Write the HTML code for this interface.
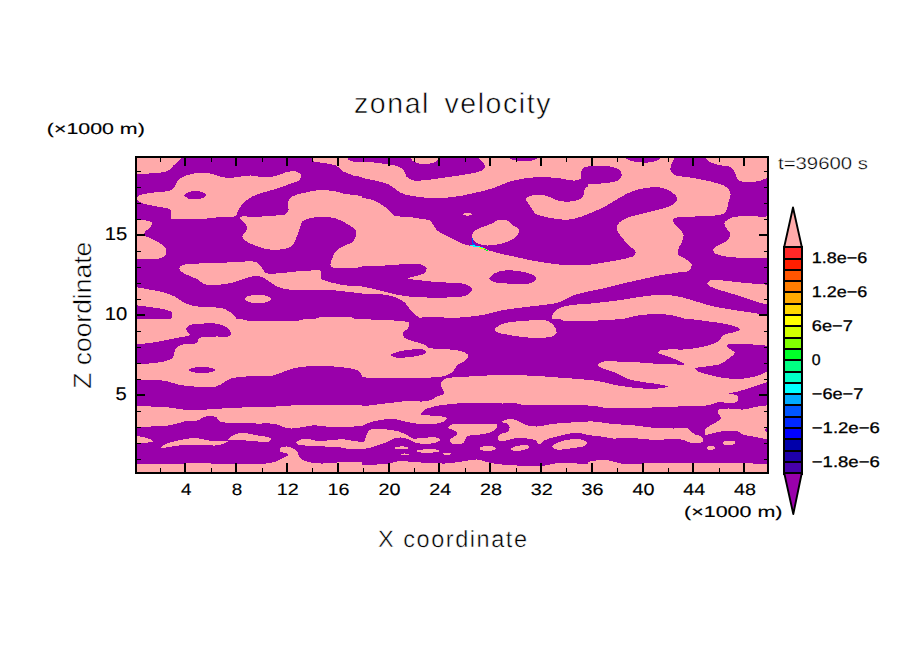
<!DOCTYPE html>
<html><head><meta charset="utf-8"><title>zonal velocity</title>
<style>html,body{margin:0;padding:0;background:#fff;overflow:hidden;}svg{display:block;position:absolute;left:0;top:0;}text{font-family:"Liberation Sans",sans-serif;fill:#000;}</style>
</head><body>
<svg width="904" height="654" viewBox="0 0 904 654" shape-rendering="crispEdges">
<rect x="0" y="0" width="904" height="654" fill="#fff"/>
<rect x="135" y="156" width="634" height="318" fill="#9900AA"/>
<clipPath id="plotclip"><rect x="135" y="156" width="634" height="318"/></clipPath>
<g clip-path="url(#plotclip)" shape-rendering="crispEdges">
<clipPath id="c136_156"><rect x="136" y="156" width="226" height="163"/></clipPath>
<g clip-path="url(#c136_156)">
<rect x="136" y="156" width="226" height="163" fill="#9900AA"/>
<path d="M136.0,156.0L183.5,156.0C183.5,156.0 180.2,159.4 178.5,161.0C176.9,162.6 175.1,163.9 173.5,165.5C171.8,167.1 170.5,169.3 168.5,170.5C166.4,171.7 163.8,172.0 161.0,172.5C157.4,173.1 152.7,173.2 148.5,173.5C144.3,173.7 136.0,174.0 136.0,174.0L136.0,156.0Z" fill="#FFAAAA"/>
<path d="M312.2,156.0C312.2,156.0 311.3,159.4 312.2,160.5C313.7,162.3 319.6,162.2 323.5,163.0C327.6,163.9 332.5,163.9 336.0,165.5C339.0,166.9 340.7,169.9 343.5,171.5C346.5,173.2 350.3,174.6 353.5,175.5C356.4,176.3 362.0,177.0 362.0,177.0L362.0,162.2C362.0,162.2 358.1,162.6 356.0,162.2C353.6,161.9 349.9,161.1 348.5,159.8C347.5,158.8 347.2,156.0 347.2,156.0L312.2,156.0Z" fill="#FFAAAA"/>
<path d="M137.2,197.2C137.8,196.3 139.2,195.4 141.0,194.8C144.2,193.5 151.2,192.9 156.0,192.2C160.3,191.7 165.1,192.1 168.5,191.0C171.1,190.2 173.3,189.0 174.8,187.2C176.2,185.6 176.0,182.7 177.2,181.0C178.5,179.4 180.1,178.4 182.2,177.2C185.2,175.7 189.4,174.2 193.5,173.5C198.1,172.7 204.0,172.4 208.5,173.0C212.2,173.5 215.1,175.2 218.5,176.0C221.8,176.8 225.0,177.9 228.5,178.0C232.4,178.2 237.1,176.9 241.0,176.5C244.5,176.1 247.5,175.4 251.0,175.5C254.9,175.6 259.3,177.2 263.5,177.2C267.7,177.3 272.1,176.9 276.0,176.0C279.6,175.2 282.6,173.0 286.0,172.2C289.3,171.5 293.3,170.8 296.0,171.5C298.1,172.0 300.4,173.3 301.0,174.8C301.5,176.1 300.9,178.4 299.8,179.8C298.2,181.6 294.0,182.3 291.0,183.5C287.8,184.8 284.5,186.1 281.0,187.2C277.1,188.6 272.7,189.8 268.5,191.0C264.3,192.2 259.7,193.2 256.0,194.8C252.7,196.2 249.8,197.8 247.2,199.8C244.9,201.6 242.7,203.8 241.0,206.0C239.4,208.0 238.1,210.4 237.2,212.2C236.6,213.6 237.2,215.1 236.0,216.0C233.5,217.9 224.3,216.8 218.5,217.2C212.7,217.8 207.2,218.7 201.0,219.0C194.0,219.4 184.0,219.5 178.5,219.2C175.3,219.1 172.4,219.9 171.0,218.5C169.5,217.0 172.0,211.6 170.5,209.8C168.9,207.8 164.4,208.0 161.0,207.2C157.1,206.4 152.3,205.7 148.5,204.8C145.3,204.0 141.7,203.4 139.8,202.2C138.5,201.5 137.6,200.7 137.2,199.8C136.9,199.0 136.9,198.0 137.2,197.2Z" fill="#FFAAAA"/>
<path d="M184.2,195.2C184.3,194.2 186.8,193.0 188.5,192.2C190.6,191.4 193.6,191.0 196.0,191.0C198.2,191.0 200.5,191.5 202.2,192.2C203.7,192.9 205.9,193.8 206.0,194.8C206.1,195.7 204.4,197.2 203.0,198.0C201.3,199.0 198.4,199.2 196.0,199.2C193.5,199.3 190.6,199.3 188.5,198.5C186.8,197.8 184.2,196.3 184.2,195.2Z" fill="#9900AA"/>
<path d="M288.5,201.0C289.2,199.5 290.4,197.7 292.2,196.5C294.8,194.8 299.6,194.0 303.5,193.0C307.5,192.0 311.5,190.9 316.0,190.5C321.3,190.0 328.5,190.3 333.5,191.0C337.3,191.5 339.6,192.8 343.5,193.5C348.7,194.5 362.0,196.0 362.0,196.0L362.0,267.2C362.0,267.2 334.0,270.0 331.0,266.5C329.5,264.7 331.4,261.1 332.2,258.5C333.1,255.9 334.2,253.1 336.0,251.0C337.9,248.9 340.8,247.4 343.5,246.0C346.2,244.5 350.1,244.1 352.2,242.2C354.1,240.6 355.5,238.2 356.0,236.0C356.5,234.0 356.5,231.5 355.5,229.8C354.3,227.7 351.2,226.4 348.5,224.8C345.0,222.6 340.3,219.8 336.0,218.5C331.9,217.2 327.7,216.8 323.5,216.8C319.3,216.7 314.7,217.1 311.0,218.0C307.8,218.8 304.1,219.6 302.2,221.5C300.6,223.2 300.7,226.0 299.8,228.5C298.6,231.5 297.4,235.5 296.0,238.5C294.8,241.1 294.0,243.8 292.2,245.5C290.6,247.1 288.4,247.8 286.0,248.5C283.1,249.3 279.3,249.7 276.0,249.8C272.7,249.8 269.5,249.7 266.0,249.0C262.0,248.2 257.3,246.3 253.5,244.8C250.3,243.4 246.7,242.2 244.8,240.5C243.4,239.3 242.2,237.9 242.2,236.5C242.3,234.8 245.2,232.7 246.0,231.0C246.7,229.7 247.5,228.5 247.2,227.2C247.0,225.6 244.8,223.9 243.5,222.2C242.2,220.6 239.2,218.3 239.8,217.2C240.6,215.5 250.3,217.0 256.0,216.8C262.3,216.5 270.5,216.1 276.0,215.5C279.9,215.1 283.9,215.4 286.0,214.0C287.4,213.0 288.2,211.3 288.5,209.8C288.8,208.2 288.0,206.3 288.0,204.8C288.0,203.4 288.0,202.2 288.5,201.0Z" fill="#FFAAAA"/>
<path d="M136.0,219.8C136.0,219.8 143.2,220.0 146.0,220.5C148.1,220.9 150.8,221.1 151.5,222.2C152.1,223.2 151.6,224.8 151.0,226.0C150.3,227.4 148.4,228.4 147.2,229.8C146.0,231.2 143.4,233.1 143.8,234.5C144.1,236.1 148.5,237.2 151.0,238.5C153.5,239.8 156.3,240.8 158.5,242.2C160.5,243.5 162.6,244.9 164.0,246.5C165.2,247.9 166.4,249.4 166.5,251.0C166.6,252.6 165.9,254.8 164.8,256.0C163.4,257.4 161.0,257.9 158.5,258.5C155.1,259.3 149.9,259.2 146.0,259.2C142.5,259.3 136.0,259.0 136.0,259.0L136.0,219.8Z" fill="#FFAAAA"/>
<path d="M179.0,268.5C179.0,267.4 180.5,266.1 182.2,265.2C185.5,263.7 192.8,263.9 198.5,263.5C204.8,263.1 211.6,263.3 218.5,263.0C225.8,262.7 234.6,262.0 241.0,261.8C245.8,261.6 250.3,260.9 253.5,261.5C255.6,261.9 257.1,262.4 258.5,263.5C260.0,264.7 261.0,266.9 262.2,268.5C263.5,270.1 264.2,272.1 266.0,273.0C268.4,274.2 272.1,273.6 276.0,273.5C281.5,273.4 289.8,272.0 296.0,271.5C301.4,271.1 306.7,270.6 311.0,270.5C314.3,270.4 318.1,269.5 319.8,270.5C320.8,271.1 321.2,272.3 321.5,273.5C321.8,274.9 320.3,277.3 321.0,278.5C321.7,279.8 324.0,280.3 326.0,281.0C328.7,282.0 332.9,282.8 336.0,283.5C338.7,284.1 340.4,284.8 343.5,285.2C348.3,285.9 362.0,286.0 362.0,286.0L362.0,293.5C362.0,293.5 355.0,292.7 351.0,292.2C346.4,291.7 341.0,290.9 336.0,290.5C331.0,290.1 326.4,289.9 321.0,289.8C314.8,289.6 307.2,289.9 301.0,289.8C295.6,289.7 290.4,290.0 286.0,289.2C282.3,288.6 279.0,287.5 276.0,286.0C273.2,284.7 270.9,282.5 268.5,281.0C266.3,279.6 264.4,278.1 262.2,277.2C260.2,276.5 258.3,276.0 256.0,276.0C253.1,276.0 249.3,277.1 246.0,278.0C242.6,278.9 239.4,280.5 236.0,281.5C232.7,282.5 229.5,283.5 226.0,284.0C222.1,284.6 217.4,284.8 213.5,284.8C210.0,284.7 206.1,285.1 203.5,284.0C201.4,283.1 200.5,281.0 198.5,279.8C196.1,278.3 192.5,277.3 189.8,276.0C187.1,274.8 184.1,273.7 182.2,272.2C180.8,271.1 179.0,269.7 179.0,268.5Z" fill="#FFAAAA"/>
<path d="M271.0,299.0C271.0,299.5 270.5,300.2 270.0,300.6C269.4,301.2 268.3,301.6 267.2,302.0C266.0,302.4 264.4,302.7 263.0,302.9C261.4,303.1 259.7,303.2 258.0,303.2C256.3,303.2 254.6,303.1 253.0,302.9C251.6,302.7 250.0,302.4 248.8,302.0C247.7,301.6 246.6,301.2 246.0,300.6C245.5,300.2 245.0,299.5 245.0,299.0C245.0,298.5 245.5,297.8 246.0,297.4C246.6,296.8 247.7,296.4 248.8,296.0C250.0,295.6 251.6,295.3 253.0,295.1C254.6,294.9 256.3,294.8 258.0,294.8C259.7,294.8 261.4,294.9 263.0,295.1C264.4,295.3 266.0,295.6 267.2,296.0C268.3,296.4 269.4,296.8 270.0,297.4C270.5,297.8 271.0,298.5 271.0,299.0Z" fill="#FFAAAA"/>
<path d="M136.0,287.2C136.0,287.2 146.0,288.8 151.0,289.8C156.0,290.7 161.6,291.6 166.0,293.0C169.7,294.2 173.0,295.6 176.0,297.2C178.8,298.7 180.7,300.8 183.5,302.2C186.5,303.8 189.8,305.2 193.5,306.0C197.9,307.0 203.7,306.9 208.5,307.2C212.9,307.6 217.4,307.2 221.0,308.0C223.9,308.6 226.2,309.7 228.5,311.0C230.8,312.3 233.4,314.4 234.8,316.0C235.6,317.0 236.5,319.0 236.5,319.0L171.0,319.0C171.0,319.0 173.0,314.5 172.2,313.0C171.5,311.4 168.6,310.6 166.0,309.8C162.2,308.5 156.0,308.0 151.0,307.2C146.0,306.5 136.0,305.2 136.0,305.2L136.0,287.2Z" fill="#FFAAAA"/>
<path d="M316.0,319.0C316.0,319.0 316.4,318.1 317.2,317.8C321.0,316.2 349.8,316.2 353.5,317.8C354.3,318.1 354.8,319.0 354.8,319.0L316.0,319.0Z" fill="#FFAAAA"/>
</g>
<clipPath id="c362_156"><rect x="362" y="156" width="226" height="163"/></clipPath>
<g clip-path="url(#c362_156)">
<rect x="362" y="156" width="226" height="163" fill="#FFAAAA"/>
<path d="M362.0,156.0L411.0,156.0C411.0,156.0 411.0,159.3 412.0,160.5C413.3,162.1 416.8,163.0 419.5,163.5C422.5,164.1 426.4,164.0 429.5,163.5C432.2,163.1 435.7,162.5 437.0,161.0C438.1,159.8 438.0,156.0 438.0,156.0L475.0,156.0C475.0,156.0 479.1,158.2 480.8,159.8C482.3,161.2 484.0,163.1 484.5,164.8C484.9,166.0 485.1,167.4 484.5,168.5C483.8,169.8 481.8,170.6 479.5,171.5C475.5,173.0 468.0,173.9 462.0,175.0C455.6,176.1 448.4,177.1 442.0,178.0C436.0,178.8 429.9,179.9 424.5,180.2C420.0,180.5 415.2,181.2 412.0,180.2C409.7,179.5 407.9,178.2 406.5,176.5C405.0,174.7 404.9,171.5 403.2,169.8C401.7,168.0 399.6,167.0 397.0,166.0C393.2,164.6 386.8,164.2 382.0,163.5C377.7,162.9 373.1,162.3 369.5,162.0C366.7,161.7 362.0,161.5 362.0,161.5L362.0,156.0Z" fill="#9900AA"/>
<path d="M508.2,156.0C508.2,156.0 510.0,158.7 512.0,159.5C516.2,161.2 529.9,161.6 534.5,160.0C537.0,159.2 539.5,156.0 539.5,156.0L508.2,156.0Z" fill="#9900AA"/>
<path d="M362.0,178.0C362.0,178.0 372.3,179.8 377.0,181.0C381.4,182.1 385.7,182.8 389.5,184.8C393.2,186.6 395.8,190.4 399.5,192.2C403.3,194.2 407.3,195.1 412.0,196.0C417.8,197.2 425.3,197.8 432.0,198.0C438.7,198.2 445.4,198.0 452.0,197.2C458.7,196.5 465.4,195.0 472.0,193.5C478.7,192.0 486.2,190.4 492.0,188.5C496.7,187.0 500.3,185.0 504.5,183.5C508.6,182.1 512.3,180.7 517.0,179.8C522.8,178.5 530.3,177.5 537.0,177.2C543.7,177.0 550.6,177.4 557.0,178.0C563.0,178.5 570.2,180.9 574.5,180.5C577.1,180.3 579.6,180.0 580.8,178.5C582.0,176.9 580.7,173.0 581.5,171.0C582.1,169.4 583.3,168.0 584.5,167.2C585.5,166.6 588.0,166.5 588.0,166.5L588.0,264.8C588.0,264.8 581.0,265.5 577.0,265.5C572.4,265.5 567.0,265.2 562.0,264.8C557.0,264.3 552.0,263.7 547.0,263.0C542.0,262.3 537.0,261.5 532.0,260.5C527.0,259.5 522.0,258.3 517.0,257.2C512.0,256.2 506.8,255.2 502.0,254.0C497.6,252.9 492.7,251.7 489.5,250.5C487.4,249.7 486.2,248.7 484.5,248.0C482.9,247.3 481.5,246.9 479.5,246.5C476.8,246.0 472.6,246.1 469.5,245.5C466.8,245.0 464.5,244.4 462.0,243.5C459.4,242.5 457.2,241.1 454.5,239.8C451.4,238.2 447.6,236.4 444.5,234.8C441.8,233.3 438.9,232.3 437.0,230.5C435.3,228.9 434.6,226.5 433.2,224.8C432.1,223.2 431.3,221.5 429.5,220.5C427.1,219.1 423.0,219.1 419.5,218.5C415.6,217.8 411.2,217.3 407.0,216.8C402.8,216.3 397.8,217.0 394.5,215.5C391.8,214.3 390.4,211.6 388.2,209.8C386.2,208.0 384.4,206.3 382.0,204.8C379.1,202.9 375.4,200.9 372.0,199.8C368.7,198.7 362.0,198.0 362.0,198.0L362.0,178.0Z" fill="#9900AA"/>
<path d="M525.8,198.5C526.2,197.0 529.6,196.1 532.0,195.5C534.9,194.7 538.7,194.4 542.0,194.8C545.4,195.2 548.9,196.9 552.0,198.0C554.7,199.0 556.5,200.4 559.5,201.0C563.6,201.8 570.4,201.9 574.5,201.0C577.7,200.3 580.7,199.3 582.5,197.2C584.3,195.2 583.7,190.3 585.0,188.5C585.8,187.4 588.0,186.5 588.0,186.5L588.0,214.0C588.0,214.0 582.6,216.3 579.5,217.2C575.8,218.3 571.2,219.5 567.0,219.8C562.8,220.0 558.7,219.1 554.5,218.5C550.3,217.9 545.6,217.1 542.0,216.0C539.1,215.1 536.2,214.5 534.5,213.0C533.2,211.8 533.0,210.0 532.0,208.5C530.9,206.8 529.3,205.2 528.2,203.5C527.2,201.9 525.3,199.8 525.8,198.5Z" fill="#FFAAAA"/>
<path d="M472.0,236.0C472.1,234.4 473.1,232.4 474.5,231.0C476.2,229.3 479.3,228.4 482.0,227.2C485.1,225.9 489.3,224.8 492.0,223.5C494.0,222.5 495.0,221.1 497.0,220.5C499.7,219.8 504.4,219.5 507.0,220.5C509.1,221.3 510.2,223.3 512.0,224.8C514.1,226.4 518.3,227.7 519.0,229.8C519.6,231.5 518.3,234.2 517.0,236.0C515.4,238.1 512.3,239.7 509.5,241.0C506.5,242.4 503.1,243.3 499.5,244.0C495.6,244.8 490.8,245.7 487.0,245.5C483.8,245.3 480.7,244.6 478.2,243.5C476.2,242.6 474.3,241.2 473.2,239.8C472.4,238.6 471.9,237.3 472.0,236.0Z" fill="#FFAAAA"/>
<path d="M463.2,213.8C464.1,212.9 471.2,212.9 472.0,213.8C472.3,214.1 472.3,214.7 472.0,215.0C471.2,215.8 464.1,215.8 463.2,215.0C462.9,214.7 462.9,214.1 463.2,213.8Z" fill="#FFAAAA"/>
<path d="M489.5,278.5C489.4,277.0 492.3,274.8 494.5,273.5C497.1,271.9 500.9,270.9 504.5,270.5C508.4,270.0 512.9,270.5 517.0,271.0C521.2,271.5 526.0,272.1 529.5,273.5C532.3,274.6 536.2,276.4 536.5,278.0C536.7,279.3 534.9,281.2 533.2,282.2C530.8,283.7 526.0,283.8 522.0,284.0C517.4,284.3 511.8,283.8 507.0,283.5C502.6,283.2 497.6,283.5 494.5,282.2C492.3,281.4 489.6,279.9 489.5,278.5Z" fill="#9900AA"/>
<path d="M362.0,266.0C362.0,266.0 377.0,265.8 384.5,265.5C392.0,265.2 400.3,264.1 407.0,264.0C412.5,264.0 418.6,263.4 422.0,264.8C424.1,265.6 426.2,267.0 426.5,268.5C426.8,269.8 425.8,271.8 424.5,273.0C422.7,274.6 418.6,275.1 415.8,276.0C413.2,276.9 408.2,277.8 408.2,278.5C408.3,279.4 417.1,279.9 422.0,280.5C427.5,281.2 433.7,281.8 439.5,282.2C445.3,282.7 452.0,282.5 457.0,283.0C460.8,283.4 464.4,283.5 467.0,284.8C469.1,285.7 471.7,287.4 472.0,289.0C472.3,290.4 470.8,292.3 469.5,293.5C467.8,295.0 465.0,295.8 462.0,296.5C457.9,297.4 452.4,297.3 447.0,297.5C440.8,297.7 433.2,297.7 427.0,297.5C421.6,297.4 417.0,297.2 412.0,296.8C407.0,296.3 402.0,295.7 397.0,294.8C392.0,293.8 386.8,292.2 382.0,291.0C377.6,289.9 373.1,288.8 369.5,288.0C366.7,287.4 362.0,286.5 362.0,286.5L362.0,266.0Z" fill="#9900AA"/>
<path d="M362.0,293.5C362.0,293.5 372.2,293.6 377.0,294.0C381.4,294.3 385.6,294.6 389.5,295.5C393.1,296.3 396.6,297.5 399.5,299.0C401.9,300.3 404.0,301.8 405.8,303.5C407.3,305.1 408.1,307.3 409.5,309.0C411.0,310.8 412.7,312.4 414.5,314.0C416.4,315.7 420.8,319.0 420.8,319.0L362.0,319.0L362.0,293.5Z" fill="#9900AA"/>
<path d="M588.0,291.8C588.0,291.8 586.5,292.0 585.2,292.2C582.4,292.9 575.8,294.3 571.5,296.0C567.3,297.6 563.4,300.6 559.5,302.0C556.1,303.2 553.8,303.5 549.5,304.2C542.2,305.5 528.4,306.5 519.5,307.8C512.2,308.7 506.0,309.5 499.8,310.8C494.1,311.9 489.7,313.7 483.8,314.8C476.6,316.0 468.8,316.9 459.8,317.5C448.2,318.2 421.8,316.2 420.0,318.0C419.7,318.3 420.0,319.0 420.0,319.0L588.0,319.0L588.0,291.8Z" fill="#9900AA"/>
<path d="M551.5,319.0C551.5,319.0 551.8,316.1 552.5,314.8C553.3,313.1 554.7,311.1 556.5,309.8C558.6,308.2 561.5,307.3 564.5,306.5C568.2,305.5 573.0,304.9 577.0,304.5C580.8,304.1 588.0,304.0 588.0,304.0L588.0,319.0L551.5,319.0Z" fill="#FFAAAA"/>
</g>
<clipPath id="c588_156"><rect x="588" y="156" width="226" height="163"/></clipPath>
<g clip-path="url(#c588_156)">
<rect x="588" y="156" width="226" height="163" fill="#FFAAAA"/>
<path d="M588.0,166.5C588.0,166.5 594.5,165.5 598.0,165.5C601.9,165.5 606.8,165.7 610.5,166.5C613.7,167.2 617.4,168.1 619.2,169.8C620.7,171.1 621.8,173.1 621.8,174.8C621.8,176.4 620.7,178.5 619.2,179.8C617.6,181.2 614.5,181.6 611.8,182.2C608.4,183.0 604.4,183.2 600.5,183.5C596.4,183.8 588.0,184.0 588.0,184.0L588.0,166.5Z" fill="#9900AA"/>
<path d="M624.2,156.0C624.2,156.0 626.3,158.8 628.0,159.8C630.4,161.1 634.5,161.8 638.0,162.2C641.9,162.7 646.7,162.8 650.5,162.2C653.7,161.8 657.4,161.1 659.2,159.8C660.6,158.8 661.8,156.0 661.8,156.0L624.2,156.0Z" fill="#9900AA"/>
<path d="M588.0,214.0C588.0,214.0 594.7,211.3 598.0,209.8C601.4,208.2 604.5,206.7 608.0,204.8C612.0,202.6 616.3,199.6 620.5,197.2C624.6,195.0 628.7,192.6 633.0,191.0C637.1,189.5 641.1,188.6 645.5,188.0C650.2,187.4 655.9,186.7 660.5,187.5C664.6,188.3 668.8,190.2 671.8,192.2C674.2,194.0 677.1,196.4 677.2,198.5C677.4,200.5 675.1,203.1 673.0,204.8C670.6,206.7 666.7,207.3 663.0,208.5C658.5,209.9 653.0,211.0 648.0,212.2C643.0,213.5 637.5,214.6 633.0,216.0C629.3,217.2 625.7,218.1 623.0,219.8C620.7,221.1 618.5,222.9 617.5,224.8C616.7,226.3 616.4,228.0 616.8,229.8C617.3,232.1 619.9,234.8 621.8,237.2C623.7,239.8 625.7,242.4 628.0,244.8C630.3,247.1 634.9,249.4 635.5,251.5C635.9,252.9 635.3,254.4 634.2,255.5C632.7,257.1 628.7,257.6 625.5,258.5C621.7,259.5 617.4,260.2 613.0,261.0C608.2,261.9 602.5,262.8 598.0,263.5C594.3,264.1 588.0,265.0 588.0,265.0L588.0,214.0Z" fill="#9900AA"/>
<path d="M675.5,156.0L704.2,156.0C704.2,156.0 706.2,159.6 708.0,161.0C710.4,162.8 714.4,163.7 718.0,164.8C721.9,165.9 727.5,165.4 730.5,167.2C732.9,168.7 734.2,171.3 735.5,173.5C736.7,175.5 736.3,178.3 738.0,179.8C740.1,181.5 744.5,182.1 748.0,182.2C751.9,182.5 756.8,181.5 760.5,180.5C763.7,179.7 769.0,177.2 769.0,177.2L769.0,216.0C769.0,216.0 765.5,216.7 763.0,216.8C759.1,216.9 753.0,215.9 748.0,216.0C743.0,216.1 737.2,215.8 733.0,217.2C729.5,218.5 724.9,220.8 724.2,223.0C723.8,224.7 725.8,226.6 726.8,228.5C727.8,230.5 730.5,232.7 730.5,234.8C730.5,236.8 728.6,239.3 726.8,241.0C724.6,243.0 720.4,243.9 718.0,245.5C716.0,246.8 713.2,248.3 713.0,249.8C712.8,251.0 714.1,252.5 715.5,253.5C717.9,255.2 723.3,256.0 728.0,256.8C733.8,257.7 741.2,257.8 748.0,258.0C754.9,258.2 769.0,258.0 769.0,258.0L769.0,284.8C769.0,284.8 762.2,284.3 758.0,284.0C752.3,283.6 744.4,282.9 738.0,282.2C732.0,281.6 725.5,280.5 720.5,280.2C716.7,280.0 712.7,279.3 710.5,280.2C709.0,280.9 707.5,282.4 707.5,283.5C707.5,284.5 709.0,285.6 710.5,286.5C713.1,288.2 718.6,289.6 723.0,291.0C727.8,292.6 733.0,293.9 738.0,295.5C743.0,297.1 748.5,299.1 753.0,300.5C756.7,301.7 760.1,302.9 763.0,303.5C765.2,303.9 769.0,304.0 769.0,304.0L769.0,315.5C769.0,315.5 768.1,315.4 767.2,315.2C764.4,314.8 755.2,313.2 749.0,312.2C742.4,311.2 735.5,310.4 728.8,309.2C722.0,308.1 715.2,306.9 708.5,305.2C701.7,303.5 694.2,300.6 688.2,299.0C683.7,297.7 680.2,296.7 676.0,296.0C671.5,295.3 666.8,295.0 662.0,295.0C656.8,295.0 651.3,295.4 645.8,296.0C639.8,296.7 633.7,298.1 627.5,299.0C620.9,300.0 613.9,301.0 607.2,301.8C600.8,302.5 588.0,303.8 588.0,303.8L588.0,291.5C588.0,291.5 597.7,289.7 603.0,288.5C609.2,287.1 616.3,285.1 623.0,283.5C629.7,281.9 636.3,280.5 643.0,279.0C649.7,277.5 656.5,275.9 663.0,274.8C669.0,273.7 675.7,273.1 680.5,272.2C683.9,271.7 687.4,272.0 689.2,270.5C690.8,269.2 692.1,266.5 691.8,264.8C691.4,262.9 688.7,261.3 686.8,259.8C684.4,257.9 679.8,256.8 678.5,254.8C677.6,253.3 677.7,251.5 678.0,249.8C678.4,247.4 680.8,244.8 681.8,242.2C682.6,239.8 684.0,237.1 683.5,234.8C683.0,232.1 679.8,229.5 678.0,227.2C676.3,225.2 673.3,223.2 673.0,221.5C672.8,220.4 673.2,219.3 674.2,218.5C676.3,216.9 683.0,217.2 688.0,216.8C694.0,216.3 701.8,216.5 708.0,216.0C713.4,215.5 719.8,215.7 723.0,214.0C724.9,213.0 725.8,211.5 726.8,209.8C727.8,207.7 727.9,204.8 728.5,202.2C729.1,199.4 730.9,196.1 730.5,193.5C730.1,191.2 728.6,188.9 726.8,187.2C724.6,185.4 721.4,184.6 718.0,183.5C713.7,182.1 708.0,180.8 703.0,179.8C698.0,178.7 692.9,178.1 688.0,177.2C683.3,176.4 677.2,176.6 674.2,174.8C672.3,173.5 670.9,171.6 670.5,169.8C670.1,167.9 671.0,165.6 671.8,163.5C672.6,161.1 675.5,156.0 675.5,156.0Z" fill="#9900AA"/>
<path d="M623.0,319.0C623.0,319.0 632.6,316.3 638.0,315.5C644.2,314.6 651.8,313.9 658.0,314.0C663.4,314.1 668.3,314.6 673.0,315.5C677.4,316.3 685.5,319.0 685.5,319.0L623.0,319.0Z" fill="#9900AA"/>
</g>
<clipPath id="c136_319"><rect x="136" y="319" width="226" height="163"/></clipPath>
<g clip-path="url(#c136_319)">
<rect x="136" y="319" width="226" height="163" fill="#FFAAAA"/>
<path d="M242.2,319.0C242.2,319.0 242.7,319.7 243.5,320.0C248.4,321.7 297.3,321.7 302.2,320.0C303.1,319.7 303.5,319.0 303.5,319.0L242.2,319.0Z" fill="#9900AA"/>
<path d="M186.0,329.0C186.2,327.5 187.9,326.2 189.8,325.2C192.8,323.8 198.8,323.7 203.5,323.5C208.4,323.3 214.2,323.1 218.5,324.0C221.9,324.8 225.1,326.1 227.2,327.8C229.0,329.1 230.8,331.2 231.0,332.8C231.2,333.9 230.8,335.3 229.8,336.0C227.7,337.5 220.6,336.3 216.0,336.5C211.4,336.7 205.3,336.2 202.2,337.0C200.5,337.5 199.3,338.0 198.5,339.0C197.7,340.0 198.3,341.9 197.2,342.8C195.4,344.2 189.4,343.4 186.0,344.0C183.2,344.5 180.4,344.8 178.5,346.0C176.8,347.0 175.6,348.6 174.8,350.2C173.9,352.0 174.6,354.8 173.5,356.5C172.5,358.2 170.7,359.3 168.5,360.2C165.4,361.6 160.7,362.1 156.0,362.8C150.1,363.6 136.0,364.5 136.0,364.5L136.0,344.5C136.0,344.5 146.0,343.5 151.0,342.8C156.0,342.0 161.0,341.2 166.0,340.2C171.0,339.3 176.7,337.9 181.0,337.0C184.3,336.3 189.1,336.7 189.8,335.2C190.3,333.9 185.8,330.7 186.0,329.0Z" fill="#9900AA"/>
<path d="M215.2,370.0C215.2,370.4 214.7,370.8 214.3,371.1C213.6,371.6 212.5,371.9 211.4,372.1C210.2,372.4 208.7,372.6 207.2,372.8C205.6,372.9 203.9,373.0 202.2,373.0C200.6,373.0 198.9,372.9 197.3,372.8C195.8,372.6 194.3,372.4 193.1,372.1C192.0,371.9 190.9,371.6 190.2,371.1C189.8,370.8 189.2,370.4 189.2,370.0C189.2,369.6 189.8,369.2 190.2,368.9C190.9,368.4 192.0,368.1 193.1,367.9C194.3,367.6 195.8,367.4 197.3,367.2C198.9,367.1 200.6,367.0 202.2,367.0C203.9,367.0 205.6,367.1 207.2,367.2C208.7,367.4 210.2,367.6 211.4,367.9C212.5,368.1 213.6,368.4 214.3,368.9C214.7,369.2 215.2,369.6 215.2,370.0Z" fill="#9900AA"/>
<path d="M136.0,379.8C136.0,379.8 146.0,379.5 151.0,379.8C156.0,380.0 161.3,380.1 166.0,381.0C170.4,381.8 174.1,383.6 178.5,384.5C183.2,385.5 188.0,386.1 193.5,386.5C200.2,386.9 210.6,387.8 216.0,386.5C219.3,385.7 221.0,384.1 223.5,382.8C226.0,381.4 228.0,379.5 231.0,378.5C235.0,377.1 240.4,376.9 246.0,376.5C253.3,375.9 264.6,377.1 271.0,376.0C275.1,375.3 277.7,373.9 281.0,372.8C284.3,371.6 287.3,370.0 291.0,369.0C295.4,367.8 300.6,367.0 306.0,366.5C312.2,365.9 319.3,365.8 326.0,366.0C332.7,366.2 340.3,366.9 346.0,367.8C350.3,368.4 354.5,368.7 357.2,370.2C359.4,371.5 362.0,375.2 362.0,375.2L362.0,405.2C362.0,405.2 347.9,404.5 341.0,404.5C334.3,404.5 328.0,405.1 321.0,405.2C313.1,405.4 303.9,405.0 296.0,405.2C289.0,405.5 282.7,406.2 276.0,406.5C269.3,406.8 262.7,406.8 256.0,407.0C249.3,407.2 242.9,407.4 236.0,407.8C228.7,408.1 220.8,408.6 213.5,409.0C206.6,409.4 199.7,410.3 193.5,410.2C188.1,410.2 183.3,409.6 178.5,409.0C174.1,408.5 170.4,407.4 166.0,407.0C161.2,406.5 156.0,406.7 151.0,406.5C146.0,406.3 136.0,406.0 136.0,406.0L136.0,379.8Z" fill="#9900AA"/>
<path d="M136.0,426.5C136.0,426.5 145.6,426.7 151.0,426.5C157.2,426.3 164.9,426.3 171.0,425.2C176.4,424.3 181.2,421.8 186.0,421.0C190.3,420.3 195.4,421.3 198.5,420.2C200.7,419.5 201.3,417.6 203.5,417.0C206.6,416.1 213.2,415.7 216.0,417.0C217.9,417.9 217.8,420.5 219.8,421.5C223.1,423.2 230.3,422.4 236.0,422.8C242.3,423.1 249.3,423.3 256.0,423.5C262.7,423.7 271.0,423.0 276.0,424.0C279.2,424.7 281.0,426.2 283.5,427.0C286.0,427.7 288.2,428.4 291.0,428.5C294.6,428.6 299.6,427.6 303.5,427.0C307.0,426.5 310.0,425.4 313.5,425.2C317.4,425.1 321.6,426.2 326.0,426.5C330.8,426.8 335.6,427.0 341.0,427.0C347.4,427.0 362.0,426.0 362.0,426.0L362.0,461.5C362.0,461.5 347.9,461.9 341.0,462.2C334.2,462.6 326.9,463.7 321.0,463.5C316.3,463.4 312.2,463.1 308.5,462.0C305.2,461.0 301.6,459.8 299.8,457.8C298.2,456.1 298.5,453.2 297.2,451.5C296.0,449.9 294.1,448.6 292.2,447.8C290.4,446.9 288.1,446.4 286.0,446.5C283.9,446.6 280.4,447.4 279.8,448.5C279.3,449.3 279.7,450.6 280.5,451.5C281.8,452.9 288.4,453.3 288.5,454.5C288.6,455.5 285.4,456.7 283.5,457.8C281.3,459.0 278.7,460.6 276.0,461.5C273.0,462.5 270.3,463.0 266.0,463.5C258.7,464.3 245.5,464.0 236.0,464.0C227.3,464.0 219.3,463.6 211.0,463.5C202.7,463.4 194.3,463.4 186.0,463.5C177.7,463.6 169.3,463.8 161.0,464.0C152.7,464.2 136.0,464.5 136.0,464.5L136.0,426.5Z" fill="#9900AA"/>
<path d="M136.0,436.0C136.0,436.0 143.0,436.8 146.0,437.8C148.8,438.7 153.7,440.6 153.5,441.5C153.3,442.8 136.0,443.0 136.0,443.0L136.0,436.0Z" fill="#FFAAAA"/>
<path d="M161.0,447.8C160.7,447.1 163.6,445.1 166.0,444.0C170.3,441.9 180.5,440.0 186.0,439.0C189.9,438.3 192.3,437.6 196.0,437.8C200.5,438.0 206.0,440.5 211.0,441.0C216.0,441.5 222.9,441.0 226.0,441.0C227.4,441.0 229.0,440.8 229.0,441.0C229.1,441.5 222.5,444.5 218.5,445.2C213.5,446.2 207.0,444.8 201.0,444.8C194.6,444.7 187.7,444.8 181.0,445.2C174.3,445.7 161.5,448.9 161.0,447.8Z" fill="#FFAAAA"/>
<path d="M228.5,439.0C229.1,437.8 233.4,435.0 236.0,434.0C238.4,433.0 240.7,432.7 243.5,432.8C247.1,432.8 251.6,434.3 256.0,435.2C260.8,436.2 270.3,436.7 271.0,438.5C271.4,439.5 270.0,441.3 268.5,442.0C265.7,443.3 258.3,441.3 253.5,441.0C249.1,440.7 245.2,440.4 241.0,440.2C236.8,440.1 229.4,440.9 228.5,440.0C228.2,439.7 228.3,439.4 228.5,439.0Z" fill="#FFAAAA"/>
<path d="M296.2,442.8C296.3,441.9 298.4,440.7 299.8,440.0C301.4,439.2 303.2,438.6 305.5,438.5C308.9,438.4 313.8,440.7 318.0,441.0C322.1,441.3 326.4,440.5 330.5,440.2C334.6,440.0 338.8,439.1 342.8,439.2C346.5,439.4 350.1,440.5 353.5,441.0C356.5,441.4 362.0,442.0 362.0,442.0L362.0,449.2C362.0,449.2 352.1,449.2 348.0,448.8C344.7,448.4 342.8,447.6 339.2,447.2C333.7,446.6 324.1,446.6 318.0,446.2C313.3,446.0 309.1,445.8 305.5,445.5C302.8,445.3 300.1,445.5 298.5,444.8C297.4,444.3 296.2,443.5 296.2,442.8Z" fill="#FFAAAA"/>
</g>
<clipPath id="c362_319"><rect x="362" y="319" width="226" height="163"/></clipPath>
<g clip-path="url(#c362_319)">
<rect x="362" y="319" width="226" height="163" fill="#9900AA"/>
<path d="M362.0,319.0C362.0,319.0 371.5,319.5 377.0,319.8C383.7,320.1 393.6,320.3 399.5,321.0C403.4,321.5 407.9,321.2 409.0,322.8C409.8,323.9 409.0,326.2 408.2,327.8C407.3,329.6 403.8,330.9 403.2,332.8C402.8,334.3 403.3,336.4 404.5,337.8C406.2,339.7 411.0,340.2 414.5,341.5C418.4,342.9 425.1,344.5 427.0,346.0C427.8,346.6 427.4,347.3 428.2,347.8C430.5,349.0 439.0,348.4 444.5,349.0C450.2,349.6 457.7,350.0 462.0,351.5C464.7,352.5 467.8,353.7 468.2,355.2C468.7,356.6 467.2,358.8 465.8,360.2C463.9,362.2 459.1,363.2 457.0,365.2C455.2,367.0 455.1,369.8 453.2,371.5C451.1,373.5 448.1,374.9 444.5,376.0C439.3,377.5 431.5,377.4 424.5,377.8C416.6,378.2 407.8,378.2 399.5,378.2C391.2,378.3 381.4,378.6 374.5,378.2C369.6,378.0 362.0,377.0 362.0,377.0L362.0,319.0Z" fill="#FFAAAA"/>
<path d="M390.8,355.2C390.7,354.1 396.3,352.4 399.5,351.5C403.2,350.4 407.9,349.8 412.0,349.5C415.8,349.2 420.7,348.6 423.2,349.5C424.8,350.0 426.6,351.2 426.5,352.0C426.4,353.1 423.1,354.4 420.8,355.2C417.7,356.3 413.4,356.6 409.5,357.0C405.5,357.4 400.4,358.3 397.0,357.8C394.5,357.3 390.8,356.2 390.8,355.2Z" fill="#9900AA"/>
<path d="M494.5,330.2C494.3,329.1 496.6,327.2 498.2,326.0C500.4,324.5 503.6,323.6 507.0,322.8C511.3,321.7 517.0,321.4 522.0,321.0C527.0,320.6 532.4,320.2 537.0,320.2C541.0,320.3 545.2,319.7 548.2,321.0C550.9,322.1 553.1,324.4 554.5,326.5C555.7,328.4 557.0,331.1 556.5,332.8C556.0,334.3 554.1,335.6 552.0,336.5C548.6,337.9 542.0,337.7 537.0,337.8C532.0,337.8 527.0,337.5 522.0,337.0C517.0,336.5 511.3,335.3 507.0,334.5C503.7,333.9 500.5,333.7 498.2,332.8C496.7,332.1 494.6,331.3 494.5,330.2Z" fill="#FFAAAA"/>
<path d="M560.8,319.0L588.0,319.0L588.0,321.0C588.0,321.0 565.1,321.6 562.0,320.2C561.2,319.9 560.8,319.0 560.8,319.0Z" fill="#FFAAAA"/>
<path d="M440.8,384.0C441.0,382.3 442.4,380.2 444.5,379.0C448.0,377.0 455.6,377.6 462.0,377.0C469.6,376.3 478.7,375.8 487.0,375.5C495.3,375.2 503.7,374.9 512.0,375.0C520.3,375.1 528.7,375.5 537.0,376.0C545.3,376.5 553.6,377.1 562.0,377.8C570.6,378.4 588.0,379.8 588.0,379.8L588.0,405.2C588.0,405.2 570.1,405.2 562.0,405.2C554.9,405.2 548.4,405.2 542.0,405.2C536.0,405.2 529.1,405.8 524.5,405.2C521.5,404.9 520.0,403.8 517.0,403.5C512.9,403.0 507.0,403.6 502.0,403.5C497.0,403.4 492.0,402.9 487.0,402.8C482.0,402.6 477.0,402.6 472.0,402.8C467.0,402.9 461.8,403.1 457.0,403.5C452.6,403.8 448.4,404.2 444.5,404.8C441.0,405.2 437.8,405.6 434.5,406.5C431.0,407.4 426.2,408.5 424.0,410.2C422.5,411.4 420.8,413.6 421.2,414.5C421.8,415.7 426.5,415.2 429.5,415.5C433.2,415.9 438.8,415.8 442.0,416.5C444.1,417.0 446.8,417.6 447.0,418.5C447.2,419.3 445.4,420.7 444.0,421.5C441.8,422.7 438.1,423.5 434.5,424.0C430.1,424.6 424.3,424.4 419.5,424.0C415.1,423.7 410.9,422.8 407.0,422.0C403.5,421.3 400.4,420.0 397.0,419.5C393.7,419.1 390.6,419.0 387.0,419.2C382.7,419.5 377.1,420.3 372.8,421.5C368.9,422.6 362.0,425.8 362.0,425.8L362.0,406.5C362.0,406.5 372.0,405.1 377.0,404.5C382.0,403.9 387.0,403.3 392.0,402.8C397.0,402.2 402.0,401.2 407.0,401.0C412.0,400.8 417.7,401.7 422.0,401.5C425.3,401.3 428.2,401.2 430.8,400.2C433.1,399.4 434.8,397.6 437.0,396.5C439.3,395.3 443.9,394.8 444.5,393.2C444.9,392.1 443.1,390.5 442.5,389.0C441.9,387.4 440.5,385.6 440.8,384.0Z" fill="#FFAAAA"/>
<path d="M362.0,449.2L362.0,442.0C362.0,442.0 363.5,442.4 364.0,442.0C364.9,441.3 365.0,438.5 365.8,436.8C366.6,434.7 367.6,431.8 369.2,430.5C370.7,429.3 372.5,429.0 374.8,428.8C378.0,428.3 383.1,429.1 387.0,429.5C390.7,429.9 394.2,430.2 397.8,431.2C401.3,432.3 405.4,434.4 408.2,435.8C410.3,436.7 411.2,438.0 413.5,438.5C417.0,439.2 423.4,437.5 427.8,437.5C431.5,437.5 436.2,437.0 438.2,438.0C439.3,438.5 440.4,439.6 440.2,440.2C440.0,441.2 436.8,442.2 434.8,442.8C432.2,443.5 429.1,443.7 426.0,443.8C422.6,443.8 418.4,443.6 415.2,442.8C412.6,442.0 410.6,440.1 408.2,439.2C406.0,438.4 403.6,437.6 401.2,437.5C398.9,437.4 396.3,437.8 394.0,438.5C391.6,439.2 389.5,441.0 387.0,442.0C384.3,443.1 381.0,444.0 378.2,445.0C375.7,445.9 373.6,446.8 371.0,447.5C368.2,448.3 362.0,449.2 362.0,449.2Z" fill="#FFAAAA"/>
<path d="M395.0,447.2C396.0,446.2 406.5,446.2 407.5,447.2C407.8,447.6 407.8,448.2 407.5,448.5C406.5,449.5 396.0,449.5 395.0,448.5C394.7,448.2 394.7,447.6 395.0,447.2Z" fill="#FFAAAA"/>
<path d="M417.0,450.5C418.4,449.1 437.8,448.8 439.2,450.2C439.6,450.6 439.6,451.2 439.2,451.5C437.8,452.9 418.4,453.2 417.0,451.8C416.7,451.4 416.7,450.8 417.0,450.5Z" fill="#FFAAAA"/>
<path d="M401.2,454.0C401.9,453.3 407.8,453.3 408.5,454.0C408.7,454.2 408.7,454.8 408.5,455.0C407.8,455.7 401.9,455.7 401.2,455.0C401.0,454.8 401.0,454.2 401.2,454.0Z" fill="#FFAAAA"/>
<path d="M442.8,453.0C443.5,452.3 450.1,452.5 450.8,453.2C451.0,453.5 451.0,454.0 450.8,454.2C450.1,454.9 443.5,455.0 442.8,454.2C442.5,454.0 442.5,453.3 442.8,453.0Z" fill="#FFAAAA"/>
<path d="M448.2,427.8C448.1,426.8 450.2,425.2 452.0,424.5C455.2,423.2 462.0,424.1 467.0,424.0C472.0,423.9 477.0,423.9 482.0,424.0C487.0,424.1 495.7,422.7 497.0,424.5C497.7,425.5 496.7,427.7 495.8,429.0C494.5,430.6 491.9,431.8 489.5,432.8C486.6,433.8 483.0,433.9 479.5,434.5C475.6,435.2 469.4,434.7 467.0,436.5C465.4,437.7 465.5,440.3 464.5,441.5C463.8,442.4 463.2,443.1 462.0,443.5C459.9,444.3 454.1,444.5 452.0,443.5C450.7,442.8 449.4,441.3 449.5,440.2C449.7,439.0 453.1,437.8 454.5,436.5C455.7,435.3 457.7,433.8 457.5,432.8C457.3,431.7 454.7,431.1 453.2,430.2C451.7,429.4 448.4,428.7 448.2,427.8Z" fill="#FFAAAA"/>
<path d="M502.0,422.0C501.9,421.3 505.1,419.9 507.0,419.5C509.2,419.0 512.3,419.0 514.5,419.5C516.4,419.9 517.7,421.1 519.5,422.0C521.7,423.0 524.3,424.5 527.0,425.2C530.0,426.1 533.3,426.6 537.0,426.5C541.5,426.4 547.0,424.6 552.0,424.0C557.0,423.4 561.6,423.1 567.0,422.8C573.4,422.3 588.0,421.5 588.0,421.5L588.0,435.2C588.0,435.2 581.0,432.9 577.0,432.8C572.4,432.6 566.8,434.2 562.0,435.2C557.6,436.2 553.0,437.3 549.5,438.5C546.8,439.4 544.0,440.3 542.5,441.5C541.6,442.3 541.5,443.6 540.8,444.0C540.1,444.4 539.0,444.4 538.2,444.0C537.3,443.5 537.1,441.2 535.8,440.2C533.9,439.0 530.0,438.9 527.0,438.5C523.8,438.1 520.3,437.5 517.0,437.8C513.6,438.0 510.2,439.7 507.0,440.2C504.2,440.7 500.3,442.0 499.0,441.0C498.0,440.2 497.8,437.7 498.2,436.5C498.7,435.2 500.5,434.3 502.0,433.5C503.7,432.6 507.0,432.8 508.2,431.5C509.3,430.3 509.8,427.9 509.5,426.5C509.2,425.3 508.1,424.2 507.0,423.5C505.7,422.6 502.1,422.7 502.0,422.0Z" fill="#FFAAAA"/>
<path d="M495.8,448.5C495.8,448.8 495.4,449.2 495.1,449.5C494.7,449.8 494.1,450.1 493.4,450.3C492.6,450.5 491.7,450.7 490.8,450.8C489.8,450.9 488.8,451.0 487.8,451.0C486.7,451.0 485.7,450.9 484.7,450.8C483.8,450.7 482.9,450.5 482.1,450.3C481.4,450.1 480.8,449.8 480.4,449.5C480.1,449.2 479.8,448.8 479.8,448.5C479.8,448.2 480.1,447.8 480.4,447.5C480.8,447.2 481.4,446.9 482.1,446.7C482.9,446.5 483.8,446.3 484.7,446.2C485.7,446.1 486.7,446.0 487.8,446.0C488.8,446.0 489.8,446.1 490.8,446.2C491.7,446.3 492.6,446.5 493.4,446.7C494.1,446.9 494.7,447.2 495.1,447.5C495.4,447.8 495.8,448.2 495.8,448.5Z" fill="#FFAAAA"/>
<path d="M529.4,446.7C529.5,447.0 529.2,447.4 528.8,447.8C528.4,448.2 527.7,448.5 527.0,448.8C526.1,449.2 525.1,449.5 524.1,449.8C523.0,450.1 521.8,450.3 520.6,450.5C519.4,450.6 518.2,450.8 517.1,450.8C516.0,450.8 514.9,450.8 514.0,450.7C513.2,450.6 512.4,450.4 511.9,450.1C511.5,449.9 511.1,449.6 511.1,449.3C511.0,449.0 511.3,448.6 511.7,448.2C512.1,447.8 512.8,447.5 513.5,447.2C514.4,446.8 515.4,446.5 516.4,446.2C517.5,445.9 518.7,445.7 519.9,445.5C521.1,445.4 522.3,445.2 523.4,445.2C524.5,445.2 525.6,445.2 526.5,445.3C527.3,445.4 528.1,445.6 528.6,445.9C529.0,446.1 529.4,446.4 529.4,446.7Z" fill="#FFAAAA"/>
<path d="M552.0,446.5C552.1,445.3 554.8,443.8 557.0,442.8C560.1,441.2 565.4,440.0 569.5,439.5C573.3,439.0 577.6,438.7 580.8,439.5C583.2,440.1 586.7,441.5 587.0,442.8C587.2,443.7 585.8,445.2 584.5,446.0C582.4,447.3 578.0,447.2 574.5,447.8C570.6,448.4 565.6,449.4 562.0,449.5C559.2,449.6 556.2,449.8 554.5,449.0C553.3,448.5 551.9,447.4 552.0,446.5Z" fill="#FFAAAA"/>
<path d="M362.0,465.2C362.0,465.2 372.2,464.8 377.0,464.5C381.4,464.2 385.6,464.1 389.5,463.5C393.0,462.9 396.0,461.3 399.5,461.0C403.4,460.7 407.6,461.7 412.0,462.0C416.8,462.3 421.8,462.5 427.0,462.8C432.6,463.0 438.7,463.7 444.5,463.5C450.3,463.3 456.4,462.2 462.0,461.5C467.2,460.9 472.5,459.2 477.0,459.5C480.7,459.7 483.7,461.2 487.0,462.0C490.3,462.7 493.3,463.5 497.0,464.0C501.5,464.6 507.0,464.9 512.0,465.2C517.0,465.6 522.0,465.9 527.0,466.0C532.0,466.1 537.5,466.4 542.0,466.0C545.7,465.6 548.7,464.5 552.0,464.0C555.3,463.5 558.3,462.9 562.0,462.8C566.5,462.6 572.4,463.3 577.0,463.5C581.0,463.7 588.0,464.0 588.0,464.0L588.0,482.0L362.0,482.0L362.0,465.2Z" fill="#FFAAAA"/>
</g>
<clipPath id="c588_319"><rect x="588" y="319" width="226" height="163"/></clipPath>
<g clip-path="url(#c588_319)">
<rect x="588" y="319" width="226" height="163" fill="#FFAAAA"/>
<path d="M588.0,321.0C588.0,321.0 597.6,320.6 603.0,320.2C609.2,319.9 623.0,319.0 623.0,319.0L690.5,319.0C690.5,319.0 700.3,320.3 705.5,321.0C711.1,321.8 717.5,322.4 723.0,323.5C727.9,324.5 733.9,325.6 736.8,327.0C738.2,327.8 739.9,328.7 739.8,329.5C739.6,330.7 734.5,331.8 731.8,332.8C728.9,333.7 725.0,333.7 723.0,335.2C721.3,336.5 721.3,338.8 719.8,340.2C718.0,341.8 715.8,342.9 713.0,344.0C709.1,345.6 703.0,346.8 698.0,347.8C693.0,348.7 688.0,349.2 683.0,349.5C678.0,349.8 672.3,349.1 668.0,349.5C664.7,349.8 660.8,350.0 659.2,351.0C658.5,351.5 657.8,352.2 658.0,352.8C658.4,354.0 664.5,355.1 668.0,356.5C671.9,358.0 677.6,359.8 680.5,361.5C682.2,362.5 684.5,363.9 684.2,364.5C683.9,365.5 675.4,364.2 670.5,364.0C665.0,363.8 659.0,363.8 653.0,363.5C646.6,363.2 639.7,362.3 633.0,362.0C626.3,361.7 618.7,361.4 613.0,361.5C608.7,361.5 604.4,361.0 601.8,362.0C600.0,362.7 597.9,364.2 598.0,365.2C598.1,366.4 600.9,367.5 603.0,368.5C606.2,370.0 611.4,371.0 615.5,372.8C619.7,374.5 623.5,377.5 628.0,379.0C632.7,380.6 637.8,381.1 643.0,382.0C648.6,383.0 655.9,383.6 660.5,384.5C663.5,385.1 668.0,385.9 668.0,386.5C668.0,387.2 661.7,388.1 658.0,388.5C653.5,388.9 648.0,388.7 643.0,388.5C638.0,388.3 633.0,387.7 628.0,387.0C623.0,386.3 617.8,385.5 613.0,384.5C608.6,383.6 604.7,382.3 600.5,381.5C596.4,380.7 588.0,379.8 588.0,379.8L588.0,321.0Z" fill="#9900AA"/>
<path d="M726.8,345.2C727.3,344.0 734.0,344.2 738.0,344.0C742.6,343.8 747.9,344.2 753.0,344.5C758.3,344.8 769.0,346.0 769.0,346.0L769.0,370.2C769.0,370.2 765.3,372.5 763.0,373.5C760.1,374.8 756.7,376.1 753.0,377.0C748.6,378.1 743.0,378.9 738.0,379.0C733.0,379.1 728.0,378.5 723.0,377.8C718.0,377.0 712.5,375.7 708.0,374.5C704.3,373.5 700.3,372.8 698.0,371.5C696.6,370.6 694.8,369.3 695.0,368.5C695.4,367.3 701.7,367.2 705.5,366.5C710.1,365.7 716.5,365.6 720.5,364.0C723.6,362.8 725.6,360.9 728.0,359.0C730.4,357.1 734.8,354.6 734.8,352.8C734.7,351.1 730.7,349.9 729.2,348.5C728.2,347.4 726.4,346.0 726.8,345.2Z" fill="#9900AA"/>
<path d="M588.0,406.0C588.0,406.0 594.7,406.1 598.0,406.5C601.3,406.9 603.8,407.9 608.0,408.2C615.3,408.8 628.5,407.9 638.0,407.8C646.7,407.6 654.7,407.5 663.0,407.2C671.3,407.0 680.0,406.3 688.0,406.0C695.4,405.7 703.8,406.3 709.2,405.2C712.9,404.6 714.9,402.7 718.0,402.2C721.2,401.8 724.7,402.9 728.0,402.8C731.2,402.6 736.0,403.1 737.5,401.5C738.6,400.3 738.9,397.3 738.0,396.0C736.8,394.3 729.2,394.3 729.2,393.5C729.3,392.8 735.0,392.3 738.0,391.5C741.2,390.6 744.7,389.5 748.0,388.5C751.3,387.5 754.6,386.4 758.0,385.2C761.6,384.1 769.0,381.5 769.0,381.5L769.0,405.2C769.0,405.2 761.9,405.9 758.0,406.5C753.4,407.2 747.2,409.2 743.0,409.5C740.1,409.7 738.0,409.2 735.5,409.0C733.0,408.8 730.6,408.4 728.0,408.5C725.2,408.6 720.8,408.3 719.2,409.5C718.3,410.2 717.9,411.6 718.0,412.8C718.1,414.3 721.0,416.4 721.0,417.8C721.0,418.7 720.1,419.4 719.2,420.2C717.9,421.5 715.2,422.6 713.0,424.0C710.6,425.5 706.8,427.2 705.5,429.0C704.6,430.3 704.6,431.5 704.5,433.0C704.4,434.8 706.1,438.2 705.5,439.0C705.1,439.5 703.9,439.3 703.2,439.0C702.4,438.6 702.2,436.9 701.2,436.2C700.1,435.4 697.9,435.7 696.2,435.0C694.5,434.2 692.6,432.9 691.2,431.8C690.2,430.8 690.2,429.4 688.8,428.8C685.9,427.4 678.6,428.6 673.0,428.5C666.7,428.3 659.7,428.3 653.0,427.8C646.3,427.2 639.7,425.9 633.0,425.2C626.3,424.6 619.2,424.6 613.0,424.0C607.6,423.5 602.5,422.5 598.0,422.0C594.3,421.6 588.0,421.0 588.0,421.0L588.0,406.0Z" fill="#9900AA"/>
<path d="M588.0,435.2C588.0,435.2 594.3,435.6 598.0,436.0C602.5,436.5 608.0,438.2 613.0,438.5C618.0,438.8 623.0,437.7 628.0,437.8C633.0,437.8 637.8,438.6 643.0,439.0C648.5,439.4 655.5,440.2 660.0,440.0C663.0,439.9 664.7,439.2 667.5,439.0C670.9,438.8 675.6,438.9 678.8,439.2C681.2,439.5 683.1,439.9 685.0,440.5C686.8,441.0 688.1,442.1 690.0,442.5C692.2,443.0 695.3,443.2 697.5,443.0C699.3,442.8 701.6,442.7 702.5,441.8C703.3,440.9 702.7,439.1 703.2,438.0C703.8,436.9 704.5,435.9 705.5,435.2C706.7,434.5 708.7,434.5 710.5,434.0C712.7,433.4 715.3,432.5 718.0,432.0C721.1,431.4 724.7,431.1 728.0,431.0C731.3,430.9 735.3,430.7 738.0,431.5C740.0,432.1 741.0,433.7 743.0,434.5C745.7,435.5 749.7,435.8 753.0,436.5C756.3,437.2 760.1,437.8 763.0,438.5C765.3,439.1 769.0,440.2 769.0,440.2L769.0,464.0C769.0,464.0 758.2,463.7 753.0,463.5C747.9,463.3 743.0,462.8 738.0,462.8C733.0,462.8 728.4,463.5 723.0,463.5C716.8,463.5 709.7,462.8 703.0,462.8C696.3,462.8 689.7,463.5 683.0,463.5C676.3,463.5 669.7,462.8 663.0,462.8C656.3,462.8 649.7,463.3 643.0,463.5C636.3,463.7 629.1,464.7 623.0,464.0C617.6,463.4 612.5,460.8 608.0,460.2C604.4,459.8 601.3,460.0 598.0,460.2C594.7,460.5 588.0,462.0 588.0,462.0L588.0,435.2Z" fill="#9900AA"/>
<path d="M769.0,427.0C769.0,427.0 766.0,427.6 765.5,428.5C765.0,429.3 765.4,431.3 766.0,432.0C766.6,432.7 769.0,433.0 769.0,433.0L769.0,427.0Z" fill="#9900AA"/>
<path d="M706.8,447.0C707.7,446.1 714.1,446.1 715.0,447.0C715.4,447.4 715.4,448.6 715.0,449.0C714.1,449.9 707.7,449.9 706.8,449.0C706.3,448.6 706.3,447.4 706.8,447.0Z" fill="#FFAAAA"/>
<path d="M723.0,442.0C723.7,440.7 732.4,440.0 734.2,441.0C735.1,441.5 735.8,442.9 735.5,443.5C734.8,444.8 726.1,445.8 724.2,444.8C723.3,444.2 722.6,442.7 723.0,442.0Z" fill="#FFAAAA"/>
</g>
<path d="M472.5,238 L473,243.5 L476,246.5" fill="none" stroke="#0055FF" stroke-width="1"/>
<path d="M470,245.5 L478,246.5 L484,248.5" fill="none" stroke="#00FFFF" stroke-width="1.2"/>
<path d="M479,247.5 L486,249.5" fill="none" stroke="#D2FF00" stroke-width="1.2"/>
<path d="M484,249.5 L488,250.5" fill="none" stroke="#00FF28" stroke-width="1"/>
</g>
<g fill="none" stroke="#000" stroke-width="2">
<rect x="136" y="157" width="632" height="316"/>
</g>
<g stroke="#000">
<line x1="160.5" y1="158" x2="160.5" y2="162" stroke-width="1"/>
<line x1="160.5" y1="468" x2="160.5" y2="472" stroke-width="1"/>
<line x1="185" y1="158" x2="185" y2="166" stroke-width="2"/>
<line x1="185" y1="463" x2="185" y2="472" stroke-width="2"/>
<line x1="211.5" y1="158" x2="211.5" y2="162" stroke-width="1"/>
<line x1="211.5" y1="468" x2="211.5" y2="472" stroke-width="1"/>
<line x1="236" y1="158" x2="236" y2="166" stroke-width="2"/>
<line x1="236" y1="463" x2="236" y2="472" stroke-width="2"/>
<line x1="262.5" y1="158" x2="262.5" y2="162" stroke-width="1"/>
<line x1="262.5" y1="468" x2="262.5" y2="472" stroke-width="1"/>
<line x1="287" y1="158" x2="287" y2="166" stroke-width="2"/>
<line x1="287" y1="463" x2="287" y2="472" stroke-width="2"/>
<line x1="312.5" y1="158" x2="312.5" y2="162" stroke-width="1"/>
<line x1="312.5" y1="468" x2="312.5" y2="472" stroke-width="1"/>
<line x1="338" y1="158" x2="338" y2="166" stroke-width="2"/>
<line x1="338" y1="463" x2="338" y2="472" stroke-width="2"/>
<line x1="363.5" y1="158" x2="363.5" y2="162" stroke-width="1"/>
<line x1="363.5" y1="468" x2="363.5" y2="472" stroke-width="1"/>
<line x1="389" y1="158" x2="389" y2="166" stroke-width="2"/>
<line x1="389" y1="463" x2="389" y2="472" stroke-width="2"/>
<line x1="414.5" y1="158" x2="414.5" y2="162" stroke-width="1"/>
<line x1="414.5" y1="468" x2="414.5" y2="472" stroke-width="1"/>
<line x1="439" y1="158" x2="439" y2="166" stroke-width="2"/>
<line x1="439" y1="463" x2="439" y2="472" stroke-width="2"/>
<line x1="465.5" y1="158" x2="465.5" y2="162" stroke-width="1"/>
<line x1="465.5" y1="468" x2="465.5" y2="472" stroke-width="1"/>
<line x1="490" y1="158" x2="490" y2="166" stroke-width="2"/>
<line x1="490" y1="463" x2="490" y2="472" stroke-width="2"/>
<line x1="516.5" y1="158" x2="516.5" y2="162" stroke-width="1"/>
<line x1="516.5" y1="468" x2="516.5" y2="472" stroke-width="1"/>
<line x1="541" y1="158" x2="541" y2="166" stroke-width="2"/>
<line x1="541" y1="463" x2="541" y2="472" stroke-width="2"/>
<line x1="566.5" y1="158" x2="566.5" y2="162" stroke-width="1"/>
<line x1="566.5" y1="468" x2="566.5" y2="472" stroke-width="1"/>
<line x1="592" y1="158" x2="592" y2="166" stroke-width="2"/>
<line x1="592" y1="463" x2="592" y2="472" stroke-width="2"/>
<line x1="617.5" y1="158" x2="617.5" y2="162" stroke-width="1"/>
<line x1="617.5" y1="468" x2="617.5" y2="472" stroke-width="1"/>
<line x1="643" y1="158" x2="643" y2="166" stroke-width="2"/>
<line x1="643" y1="463" x2="643" y2="472" stroke-width="2"/>
<line x1="668.5" y1="158" x2="668.5" y2="162" stroke-width="1"/>
<line x1="668.5" y1="468" x2="668.5" y2="472" stroke-width="1"/>
<line x1="693" y1="158" x2="693" y2="166" stroke-width="2"/>
<line x1="693" y1="463" x2="693" y2="472" stroke-width="2"/>
<line x1="719.5" y1="158" x2="719.5" y2="162" stroke-width="1"/>
<line x1="719.5" y1="468" x2="719.5" y2="472" stroke-width="1"/>
<line x1="744" y1="158" x2="744" y2="166" stroke-width="2"/>
<line x1="744" y1="463" x2="744" y2="472" stroke-width="2"/>
<line x1="137" y1="459.5" x2="141" y2="459.5" stroke-width="1"/>
<line x1="764" y1="459.5" x2="767" y2="459.5" stroke-width="1"/>
<line x1="137" y1="443.5" x2="141" y2="443.5" stroke-width="1"/>
<line x1="764" y1="443.5" x2="767" y2="443.5" stroke-width="1"/>
<line x1="137" y1="427.5" x2="141" y2="427.5" stroke-width="1"/>
<line x1="764" y1="427.5" x2="767" y2="427.5" stroke-width="1"/>
<line x1="137" y1="411.5" x2="141" y2="411.5" stroke-width="1"/>
<line x1="764" y1="411.5" x2="767" y2="411.5" stroke-width="1"/>
<line x1="137" y1="395" x2="145" y2="395" stroke-width="2"/>
<line x1="759" y1="395" x2="767" y2="395" stroke-width="2"/>
<line x1="137" y1="379.5" x2="141" y2="379.5" stroke-width="1"/>
<line x1="764" y1="379.5" x2="767" y2="379.5" stroke-width="1"/>
<line x1="137" y1="363.5" x2="141" y2="363.5" stroke-width="1"/>
<line x1="764" y1="363.5" x2="767" y2="363.5" stroke-width="1"/>
<line x1="137" y1="347.5" x2="141" y2="347.5" stroke-width="1"/>
<line x1="764" y1="347.5" x2="767" y2="347.5" stroke-width="1"/>
<line x1="137" y1="331.5" x2="141" y2="331.5" stroke-width="1"/>
<line x1="764" y1="331.5" x2="767" y2="331.5" stroke-width="1"/>
<line x1="137" y1="315" x2="145" y2="315" stroke-width="2"/>
<line x1="759" y1="315" x2="767" y2="315" stroke-width="2"/>
<line x1="137" y1="299.5" x2="141" y2="299.5" stroke-width="1"/>
<line x1="764" y1="299.5" x2="767" y2="299.5" stroke-width="1"/>
<line x1="137" y1="283.5" x2="141" y2="283.5" stroke-width="1"/>
<line x1="764" y1="283.5" x2="767" y2="283.5" stroke-width="1"/>
<line x1="137" y1="267.5" x2="141" y2="267.5" stroke-width="1"/>
<line x1="764" y1="267.5" x2="767" y2="267.5" stroke-width="1"/>
<line x1="137" y1="251.5" x2="141" y2="251.5" stroke-width="1"/>
<line x1="764" y1="251.5" x2="767" y2="251.5" stroke-width="1"/>
<line x1="137" y1="235" x2="145" y2="235" stroke-width="2"/>
<line x1="759" y1="235" x2="767" y2="235" stroke-width="2"/>
<line x1="137" y1="219.5" x2="141" y2="219.5" stroke-width="1"/>
<line x1="764" y1="219.5" x2="767" y2="219.5" stroke-width="1"/>
<line x1="137" y1="203.5" x2="141" y2="203.5" stroke-width="1"/>
<line x1="764" y1="203.5" x2="767" y2="203.5" stroke-width="1"/>
<line x1="137" y1="187.5" x2="141" y2="187.5" stroke-width="1"/>
<line x1="764" y1="187.5" x2="767" y2="187.5" stroke-width="1"/>
<line x1="137" y1="171.5" x2="141" y2="171.5" stroke-width="1"/>
<line x1="764" y1="171.5" x2="767" y2="171.5" stroke-width="1"/>
</g>
<g shape-rendering="auto" text-rendering="geometricPrecision">
<text x="354" y="112.6" font-size="28.5" textLength="196.5" lengthAdjust="spacing" word-spacing="5" stroke="#fff" stroke-width="0.55">zonal velocity</text>
<text x="46.8" y="134.3" font-size="15.5" textLength="98" lengthAdjust="spacingAndGlyphs" stroke="#000" stroke-width="0.15">(×1000 m)</text>
<text x="684" y="516.7" font-size="15.5" textLength="98.5" lengthAdjust="spacingAndGlyphs" stroke="#000" stroke-width="0.15">(×1000 m)</text>
<text x="778" y="169" font-size="16.8" textLength="90" lengthAdjust="spacingAndGlyphs" stroke="#fff" stroke-width="0.3">t=39600 s</text>
<text x="378" y="547.2" font-size="23.5" textLength="149" lengthAdjust="spacing" stroke="#fff" stroke-width="0.45">X coordinate</text>
<text transform="translate(91.3,388.8) rotate(-90)" font-size="25" textLength="147" lengthAdjust="spacingAndGlyphs" stroke="#fff" stroke-width="0.5">Z coordinate</text>
<text x="186.2" y="494.5" font-size="16.5" text-anchor="middle" stroke="#000" stroke-width="0.15" textLength="10.5" lengthAdjust="spacingAndGlyphs">4</text>
<text x="237.0" y="494.5" font-size="16.5" text-anchor="middle" stroke="#000" stroke-width="0.15" textLength="10.5" lengthAdjust="spacingAndGlyphs">8</text>
<text x="287.8" y="494.5" font-size="16.5" text-anchor="middle" stroke="#000" stroke-width="0.15" textLength="22" lengthAdjust="spacingAndGlyphs">12</text>
<text x="338.6" y="494.5" font-size="16.5" text-anchor="middle" stroke="#000" stroke-width="0.15" textLength="22" lengthAdjust="spacingAndGlyphs">16</text>
<text x="389.4" y="494.5" font-size="16.5" text-anchor="middle" stroke="#000" stroke-width="0.15" textLength="22" lengthAdjust="spacingAndGlyphs">20</text>
<text x="440.2" y="494.5" font-size="16.5" text-anchor="middle" stroke="#000" stroke-width="0.15" textLength="22" lengthAdjust="spacingAndGlyphs">24</text>
<text x="491.0" y="494.5" font-size="16.5" text-anchor="middle" stroke="#000" stroke-width="0.15" textLength="22" lengthAdjust="spacingAndGlyphs">28</text>
<text x="541.8" y="494.5" font-size="16.5" text-anchor="middle" stroke="#000" stroke-width="0.15" textLength="22" lengthAdjust="spacingAndGlyphs">32</text>
<text x="592.6" y="494.5" font-size="16.5" text-anchor="middle" stroke="#000" stroke-width="0.15" textLength="22" lengthAdjust="spacingAndGlyphs">36</text>
<text x="643.4" y="494.5" font-size="16.5" text-anchor="middle" stroke="#000" stroke-width="0.15" textLength="22" lengthAdjust="spacingAndGlyphs">40</text>
<text x="694.2" y="494.5" font-size="16.5" text-anchor="middle" stroke="#000" stroke-width="0.15" textLength="22" lengthAdjust="spacingAndGlyphs">44</text>
<text x="745.0" y="494.5" font-size="16.5" text-anchor="middle" stroke="#000" stroke-width="0.15" textLength="22" lengthAdjust="spacingAndGlyphs">48</text>
<text x="115.5" y="400.4" font-size="18.5" stroke="#000" stroke-width="0.15" textLength="11.2" lengthAdjust="spacingAndGlyphs">5</text>
<text x="104.8" y="320.4" font-size="18.5" stroke="#000" stroke-width="0.15" textLength="22.5" lengthAdjust="spacingAndGlyphs">10</text>
<text x="104.8" y="240.4" font-size="18.5" stroke="#000" stroke-width="0.15" textLength="22.5" lengthAdjust="spacingAndGlyphs">15</text>
<text x="811.8" y="263.0" font-size="15.5" stroke="#000" stroke-width="0.3" textLength="55.5" lengthAdjust="spacingAndGlyphs">1.8e−6</text>
<text x="811.8" y="297.0" font-size="15.5" stroke="#000" stroke-width="0.3" textLength="55.5" lengthAdjust="spacingAndGlyphs">1.2e−6</text>
<text x="811.8" y="331.0" font-size="15.5" stroke="#000" stroke-width="0.3" textLength="41" lengthAdjust="spacingAndGlyphs">6e−7</text>
<text x="811.8" y="365.0" font-size="15.5" stroke="#000" stroke-width="0.3" textLength="8.8" lengthAdjust="spacingAndGlyphs">0</text>
<text x="811.8" y="399.0" font-size="15.5" stroke="#000" stroke-width="0.3" textLength="51.5" lengthAdjust="spacingAndGlyphs">−6e−7</text>
<text x="811.8" y="433.0" font-size="15.5" stroke="#000" stroke-width="0.3" textLength="68" lengthAdjust="spacingAndGlyphs">−1.2e−6</text>
<text x="811.8" y="467.0" font-size="15.5" stroke="#000" stroke-width="0.3" textLength="68" lengthAdjust="spacingAndGlyphs">−1.8e−6</text>
</g>
<rect x="784" y="247" width="18" height="12" fill="#FF2828"/>
<rect x="784" y="259" width="18" height="11" fill="#FF1E00"/>
<rect x="784" y="270" width="18" height="11" fill="#FF5500"/>
<rect x="784" y="281" width="18" height="11" fill="#FF7D00"/>
<rect x="784" y="292" width="18" height="12" fill="#FFAA00"/>
<rect x="784" y="304" width="18" height="11" fill="#FFD700"/>
<rect x="784" y="315" width="18" height="11" fill="#FFFF00"/>
<rect x="784" y="326" width="18" height="12" fill="#D2FF00"/>
<rect x="784" y="338" width="18" height="11" fill="#82FF00"/>
<rect x="784" y="349" width="18" height="11" fill="#00FF28"/>
<rect x="784" y="360" width="18" height="12" fill="#00FF82"/>
<rect x="784" y="372" width="18" height="11" fill="#00FFC8"/>
<rect x="784" y="383" width="18" height="11" fill="#00FFFF"/>
<rect x="784" y="394" width="18" height="11" fill="#00AAFF"/>
<rect x="784" y="405" width="18" height="12" fill="#0055FF"/>
<rect x="784" y="417" width="18" height="11" fill="#0028FF"/>
<rect x="784" y="428" width="18" height="11" fill="#0000FF"/>
<rect x="784" y="439" width="18" height="12" fill="#0000AA"/>
<rect x="784" y="451" width="18" height="11" fill="#1E00AA"/>
<rect x="784" y="462" width="18" height="11" fill="#4600AA"/>
<g stroke="#000" stroke-width="2" fill="none">
<line x1="783" y1="247" x2="803" y2="247"/>
<line x1="783" y1="259" x2="803" y2="259"/>
<line x1="783" y1="270" x2="803" y2="270"/>
<line x1="783" y1="281" x2="803" y2="281"/>
<line x1="783" y1="292" x2="803" y2="292"/>
<line x1="783" y1="304" x2="803" y2="304"/>
<line x1="783" y1="315" x2="803" y2="315"/>
<line x1="783" y1="326" x2="803" y2="326"/>
<line x1="783" y1="338" x2="803" y2="338"/>
<line x1="783" y1="349" x2="803" y2="349"/>
<line x1="783" y1="360" x2="803" y2="360"/>
<line x1="783" y1="372" x2="803" y2="372"/>
<line x1="783" y1="383" x2="803" y2="383"/>
<line x1="783" y1="394" x2="803" y2="394"/>
<line x1="783" y1="405" x2="803" y2="405"/>
<line x1="783" y1="417" x2="803" y2="417"/>
<line x1="783" y1="428" x2="803" y2="428"/>
<line x1="783" y1="439" x2="803" y2="439"/>
<line x1="783" y1="451" x2="803" y2="451"/>
<line x1="783" y1="462" x2="803" y2="462"/>
<line x1="783" y1="473" x2="803" y2="473"/>
<line x1="784" y1="246" x2="784" y2="475"/>
<line x1="802" y1="246" x2="802" y2="475"/>
</g>
<g shape-rendering="auto" stroke="#000" stroke-width="1.9" stroke-linejoin="round">
<polygon points="784.2,247.0 793,207.5 801.8,247.0" fill="#FFAAAA"/>
<polygon points="784.2,473.0 793.3,514 801.8,473.0" fill="#9900AA"/>
</g>
</svg>
</body></html>
